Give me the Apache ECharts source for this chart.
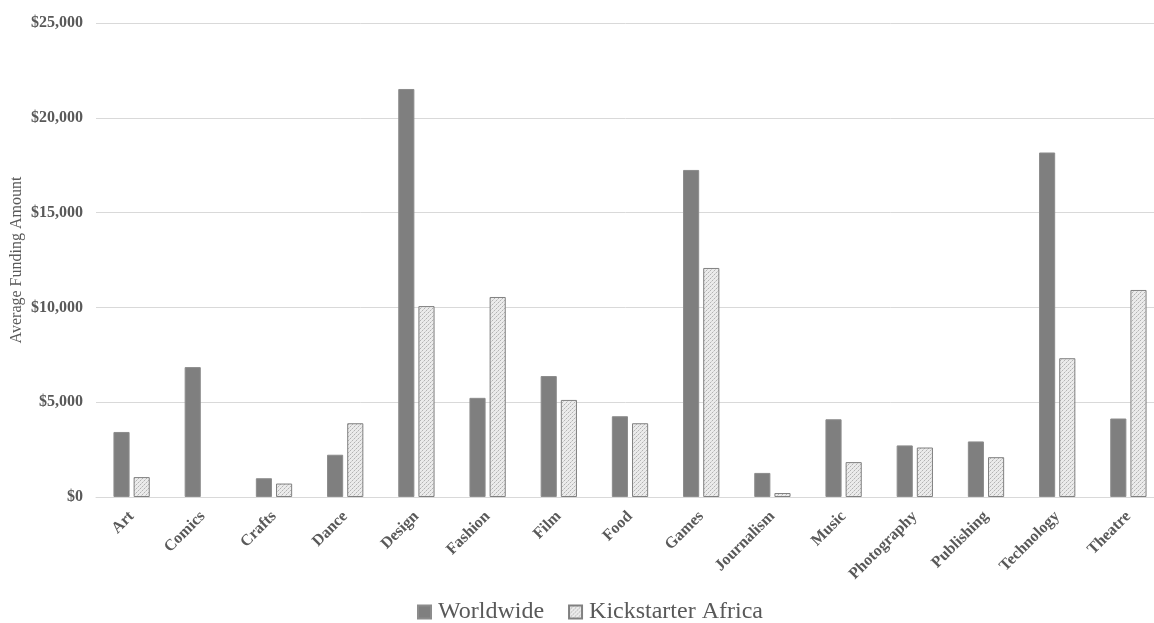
<!DOCTYPE html>
<html>
<head>
<meta charset="utf-8">
<script src="https://cdn.jsdelivr.net/npm/echarts@6/dist/echarts.min.js"></script>
<style>
html,body{margin:0;padding:0;background:#fff;}
#chart{width:1154px;height:623px;}
</style>
</head>
<body>
<div id="chart"></div>
<script>
const categories = ['Art','Comics','Crafts','Dance','Design','Fashion','Film','Food','Games','Journalism','Music','Photography','Publishing','Technology','Theatre'];
const worldwide = [3430, 6850, 990, 2230, 21520, 5230, 6380, 4260, 17250, 1270, 4100, 2720, 2930, 18170, 4140];
const africa = [1050, 0, 710, 3890, 10070, 10550, 5120, 3890, 12080, 210, 1840, 2610, 2100, 7320, 10920];
const yTicks = [0, 5000, 10000, 15000, 20000, 25000];

function hatch() {
  const c = document.createElement('canvas');
  c.width = 4; c.height = 4;
  const g = c.getContext('2d');
  g.fillStyle = '#ebebeb';
  g.fillRect(0, 0, 4, 4);
  g.fillStyle = '#b3b3b3';
  g.fillRect(0, 0, 1, 1);
  g.fillRect(2, 2, 1, 1);
  g.fillStyle = '#d0d0d0';
  g.fillRect(1, 3, 1, 1);
  g.fillRect(3, 1, 1, 1);
  return c;
}
const pattern = {image: hatch(), repeat: 'repeat'};

const africaData = africa.map(v => v === 0 ? {value: v, itemStyle: {borderWidth: 0, opacity: 0}} : v);

const chart = echarts.init(document.getElementById('chart'), null, {renderer: 'canvas'});
chart.setOption({
  animation: false,
  backgroundColor: '#ffffff',
  textStyle: {fontFamily: 'Liberation Serif'},
  grid: {left: 96, top: 23, width: 1068, height: 474, containLabel: false, outerBoundsMode: 'none'},
  legend: {
    bottom: -1,
    left: 417,
    padding: 0,
    icon: 'rect',
    itemWidth: 13,
    itemHeight: 13,
    itemGap: 24,
    textStyle: {fontFamily: 'Liberation Serif', fontSize: 24, color: '#595959', padding: [0, 0, 0, 2]},
    data: ['Worldwide', 'Kickstarter Africa']
  },
  xAxis: {
    type: 'category',
    data: categories,
    axisLine: {lineStyle: {color: '#d9d9d9', width: 1}},
    axisTick: {show: false},
    axisLabel: {
      rotate: 45,
      interval: 0,
      margin: 17,
      fontFamily: 'Liberation Serif',
      fontWeight: 'bold',
      fontSize: 16,
      color: '#595959'
    }
  },
  yAxis: {
    type: 'value',
    min: yTicks[0],
    max: yTicks[yTicks.length - 1],
    interval: 5000,
    name: 'Average Funding Amount',
    nameLocation: 'middle',
    nameGap: 71,
    nameMoveOverlap: false,
    nameTextStyle: {fontFamily: 'Liberation Serif', fontSize: 16, color: '#595959'},
    axisLine: {show: false},
    axisTick: {show: false},
    splitLine: {lineStyle: {color: '#d9d9d9', width: 1}},
    axisLabel: {
      margin: 13,
      fontFamily: 'Liberation Serif',
      fontWeight: 'bold',
      fontSize: 16,
      color: '#595959',
      formatter: v => '$' + v.toLocaleString('en-US')
    }
  },
  series: [
    {
      name: 'Worldwide',
      type: 'bar',
      data: worldwide,
      barGap: '25%',
      barCategoryGap: '49%',
      itemStyle: {color: '#7f7f7f', borderColor: '#8c8c8c', borderWidth: 1}
    },
    {
      name: 'Kickstarter Africa',
      type: 'bar',
      data: africaData,
      itemStyle: {color: pattern, borderColor: '#808080', borderWidth: 1}
    }
  ]
});
</script>
</body>
</html>
